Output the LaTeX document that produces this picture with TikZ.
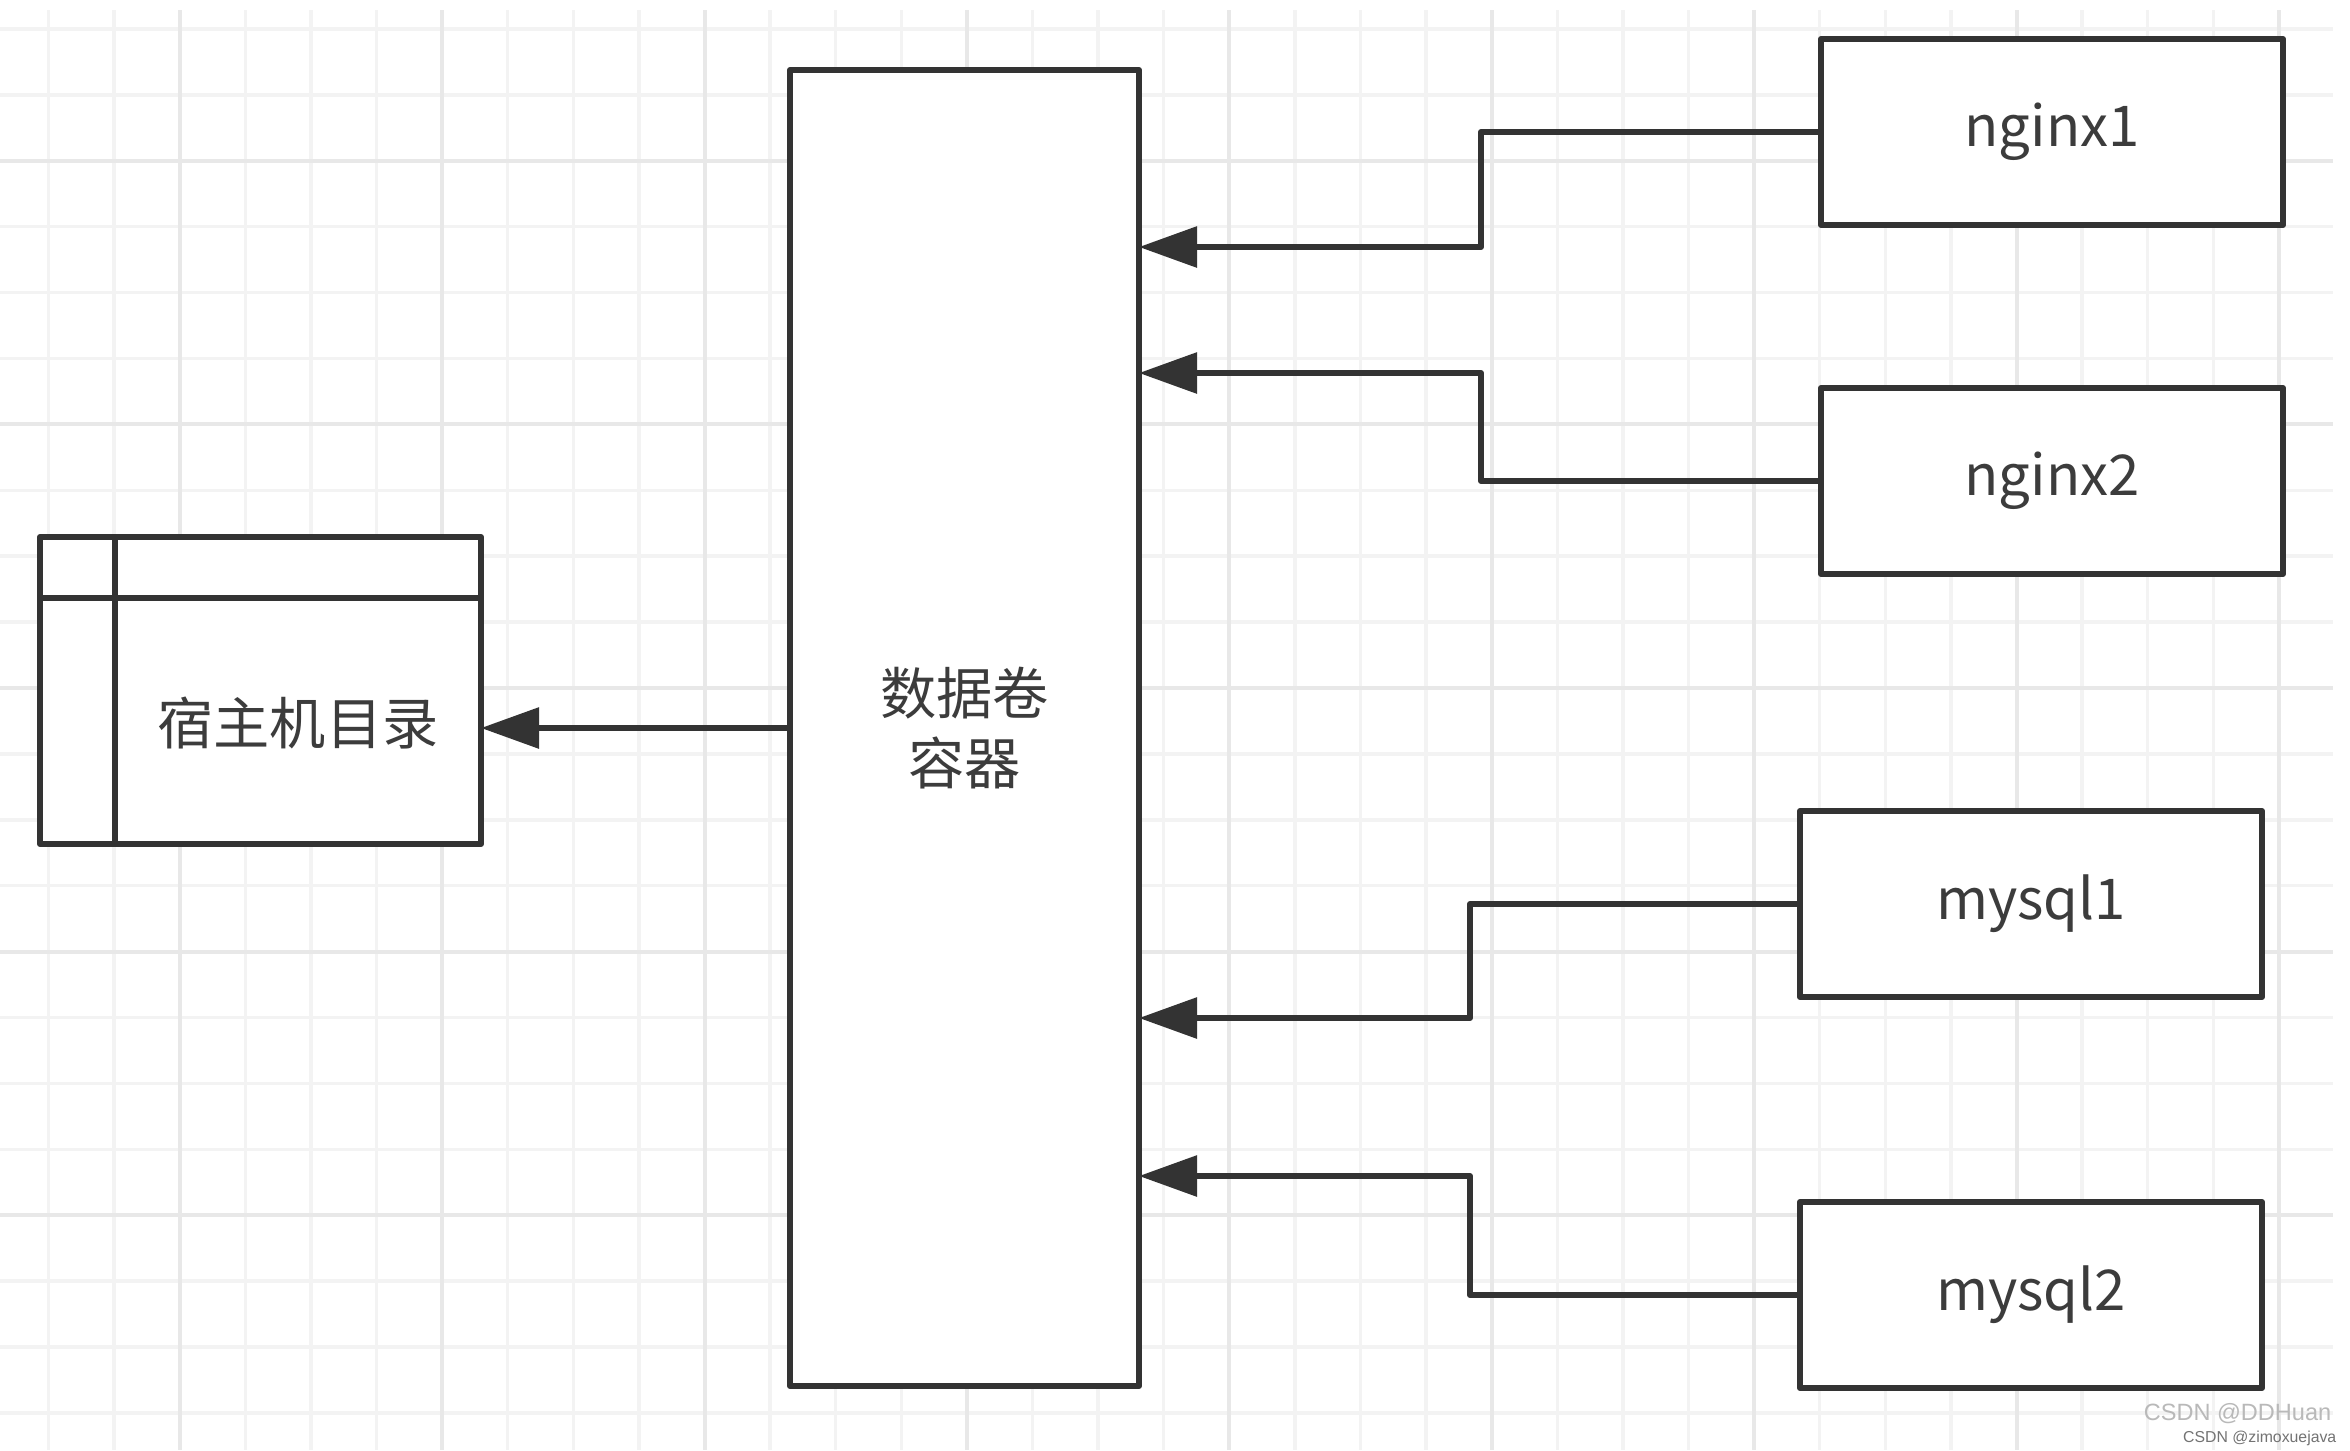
\documentclass[tikz,border=0pt]{standalone}
\usepackage{fontspec}
\newfontfamily\cjk{Noto Sans CJK SC}
\newfontfamily\wmfont{Liberation Sans}
\definecolor{linegray}{HTML}{333333}
\definecolor{textgray}{HTML}{3C3C3C}
\definecolor{gridminor}{HTML}{F3F3F3}
\definecolor{gridmajor}{HTML}{E8E8E8}
\usetikzlibrary{arrows.meta,positioning,calc}

\begin{document}
\begin{tikzpicture}[x=0.1mm, y=-0.1mm,
  box/.style={rectangle, draw=linegray, fill=white, line width=0.6mm, line join=round, outer sep=0pt, inner sep=0pt, minimum width=46.2mm, minimum height=18.6mm, align=center, text=textgray, font=\cjk\fontsize{16}{20}\selectfont},
  flow/.style={-{Triangle[length=5.8mm,width=4mm]}, line width=0.6mm, draw=linegray, line join=round},
  gridline/.style={draw=gridminor, line width=0.35mm},
  gridbold/.style={draw=gridmajor, line width=0.4mm}]
\useasboundingbox[fill=white] (0,0) rectangle (2350,1450);
\foreach \k in {0,...,34} \draw[gridline] (48.5+65.6*\k,10) -- (48.5+65.6*\k,1450);
\foreach \k in {0,...,21} \draw[gridline] (0,29+65.9*\k) -- (2333,29+65.9*\k);
\foreach \k in {2,6,...,34} \draw[gridbold] (48.5+65.6*\k,10) -- (48.5+65.6*\k,1450);
\foreach \k in {2,6,...,18} \draw[gridbold] (0,29+65.9*\k) -- (2333,29+65.9*\k);

\node[box, minimum width=34.9mm, minimum height=131.6mm] (data) at (964.5,728) {数据卷\\容器};
\node[box, minimum width=44.1mm, minimum height=30.7mm] (host) at (260.5,690.5) {};
\draw[line width=0.6mm, linegray] ($(host.north west)+(75,0)$) -- ($(host.south west)+(75,0)$);
\draw[line width=0.6mm, linegray] ($(host.north west)+(0,61)$) -- ($(host.north east)+(0,61)$);
\node[text=textgray, font=\cjk\fontsize{16}{20}\selectfont] (hosttxt) at (298,723) {宿主机目录};

\node[box] (nginx1) at (2052,132) {nginx1};
\node[box, below=16.3mm of nginx1] (nginx2) {nginx2};
\node[box] (mysql1) at (2031,904) {mysql1};
\node[box, below=20.5mm of mysql1] (mysql2) {mysql2};

\draw[flow] (data.west) -- (data.west -| host.east);
\draw[flow] (nginx1.west) -- ++(-340,0) |- ($(data.east)+(0,-481)$);
\draw[flow] (nginx2.west) -- ++(-340,0) |- ($(data.east)+(0,-355)$);
\draw[flow] (mysql1.west) -- ++(-330,0) |- ($(data.east)+(0,290)$);
\draw[flow] (mysql2.west) -- ++(-330,0) |- ($(data.east)+(0,448)$);

\node[anchor=east, inner sep=0pt, text=gray!55, font=\wmfont\fontsize{6.7}{8}\selectfont] (wm1) at (2332,1414) {CSDN @DDHuan};
\node[anchor=east, inner sep=0pt, text=gray!90!black, font=\wmfont\fontsize{4.5}{5}\selectfont] (wm2) at (2337,1438) {CSDN @zimoxuejava};
\end{tikzpicture}
\end{document}
